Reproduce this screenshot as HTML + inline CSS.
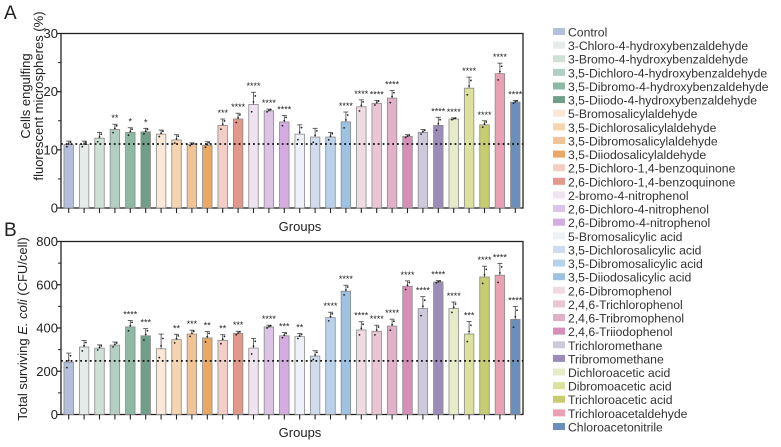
<!DOCTYPE html>
<html><head><meta charset="utf-8"><style>
body{margin:0;background:#fff;width:781px;height:442px;overflow:hidden}
svg{font-family:"Liberation Sans",Arial,sans-serif}
</style></head><body>
<svg id="c" width="781" height="442" viewBox="0 0 781 442"></svg>
<script>
const groups=["Control","3-Chloro-4-hydroxybenzaldehyde","3-Bromo-4-hydroxybenzaldehyde","3,5-Dichloro-4-hydroxybenzaldehyde","3,5-Dibromo-4-hydroxybenzaldehyde","3,5-Diiodo-4-hydroxybenzaldehyde","5-Bromosalicylaldehyde","3,5-Dichlorosalicylaldehyde","3,5-Dibromosalicylaldehyde","3,5-Diiodosalicylaldehyde","2,5-Dichloro-1,4-benzoquinone","2,6-Dichloro-1,4-benzoquinone","2-bromo-4-nitrophenol","2,6-Dichloro-4-nitrophenol","2,6-Dibromo-4-nitrophenol","5-Bromosalicylic acid","3,5-Dichlorosalicylic acid","3,5-Dibromosalicylic acid","3,5-Diiodosalicylic acid","2,6-Dibromophenol","2,4,6-Trichlorophenol","2,4,6-Tribromophenol","2,4,6-Triiodophenol","Trichloromethane","Tribromomethane","Dichloroacetic acid","Dibromoacetic acid","Trichloroacetic acid","Trichloroacetaldehyde","Chloroacetonitrile"];
const colors=["#b3c0dc","#e4ebe8","#cfe0d6","#b4cfc2","#8db9a5","#6f9e89","#fbe8d8","#f6d4b0","#f2c395","#eaa865","#f3cdc6","#e2988a","#efe2f1","#dcc4e4","#d4ace0","#eef2f8","#cfdced","#b9d2ea","#9ec2e3","#f0dbe2","#eac6d4","#e2b0c8","#d78fb8","#cfc9dc","#9b8db8","#e8ebc8","#dce29e","#c8cc70","#e9a2b4","#6a8fbb"];
const valsA=[10.9,10.9,12.0,13.5,13.0,13.1,12.7,11.7,10.9,10.8,14.2,15.3,17.8,16.7,14.8,12.7,12.2,12.2,14.8,17.4,18.0,18.9,12.3,13.0,14.2,15.3,20.6,14.3,23.1,18.2];
const errA=[0.6,0.6,1.0,0.9,0.8,0.6,0.7,0.9,0.3,0.6,1.1,1.0,2.1,0.3,1.1,1.6,1.5,0.8,1.7,1.2,0.5,1.3,0.3,0.5,1.4,0.2,1.9,0.7,1.8,0.3];
const sigA=["","","","**","*","*","","","","","***","****","****","****","****","","","","****","****","****","****","","","****","****","****","****","****","****"];
const valsB=[242,312,307,321,405,364,304,346,372,354,343,375,307,405,364,360,270,448,570,391,385,409,593,490,613,490,372,636,644,440];
const errB=[42,30,15,14,30,33,68,25,18,30,26,10,45,8,15,14,25,25,28,38,28,32,25,55,6,30,58,50,55,60];
const sigB=["","","","","****","***","","**","***","**","**","***","","****","***","**","","****","****","****","****","****","****","****","****","****","***","****","****","****"];
const ticksA=[0,10,20,30];
const ticksB=[0,200,400,600,800];
const baseA=11, baseB=248;

const svg=document.getElementById('c');
const NS="http://www.w3.org/2000/svg";
function mk(t,a,p){const e=document.createElementNS(NS,t);for(const k in a)e.setAttribute(k,a[k]);(p||svg).appendChild(e);return e;}

function panel(cfg){
  const {top,bottom,max,vals,err,sig,ticks,base,name}=cfg;
  const x0=61,x1=523,n=vals.length,step=(x1-x0)/n;
  const y=v=>bottom-(v/max)*(bottom-top);
  const xc=i=>x0+step*(i+0.5);
  const g=mk('g',{});
  
  
  mk('rect',{x:x0,y:top,width:x1-x0,height:bottom-top,fill:'none',stroke:'#222','stroke-width':1.3},g);
  ticks.forEach(t=>{
    mk('line',{x1:x0-4,x2:x0,y1:y(t),y2:y(t),stroke:'#222','stroke-width':1.2},g);
    const tx=mk('text',{x:x0-3,y:y(t)+4.5,'font-size':13,'text-anchor':'end',fill:'#222'},g);tx.textContent=t;
    
    
  });
  for(let k=0;k<ticks.length-1;k++){const m=(ticks[k]+ticks[k+1])/2;mk('line',{x1:x0-3,x2:x0,y1:y(m),y2:y(m),stroke:'#222','stroke-width':1},g);}
  vals.forEach((v,i)=>{
    const cx=xc(i),w=9.5;
    const r=mk('rect',{x:cx-w/2,y:y(v),width:w,height:bottom-y(v),fill:colors[i],stroke:'#8a8a8a','stroke-width':0.8},g);
    
    
    const et=y(v+err[i]);
    mk('line',{x1:cx,x2:cx,y1:y(v),y2:et,stroke:'#444','stroke-width':0.8},g);
    mk('line',{x1:cx-2.5,x2:cx+2.5,y1:et,y2:et,stroke:'#444','stroke-width':0.8},g);
    [-0.6,0.2,0.7].forEach((d,j)=>mk('circle',{cx:cx+(j-1)*1.8,cy:y(v+d*err[i]),r:0.9,fill:'#222'},g));
    mk('line',{x1:cx,x2:cx,y1:bottom,y2:bottom+5,stroke:'#222','stroke-width':1.1},g);
    if(sig[i]){const s=mk('text',{x:cx,y:et-3,'font-size':9,'text-anchor':'middle',fill:'#222'},g);s.textContent=sig[i];
      
      }
  });
  mk('line',{x1:x0,x2:x1,y1:y(base),y2:y(base),stroke:'#111','stroke-width':1.8,'stroke-dasharray':'1.8 3'},g);
}
panel({top:33.5,bottom:208,max:30,vals:valsA,err:errA,sig:sigA,ticks:ticksA,base:baseA,name:'panel-a-chart'});
panel({top:241.5,bottom:414.5,max:800,vals:valsB,err:errB,sig:sigB,ticks:ticksB,base:baseB,name:'panel-b-chart'});

function txt(s,a,name){const t=mk('text',a);t.textContent=s;return t;}
txt('A',{x:4,y:19,'font-size':19,fill:'#222'},'panel-a-letter');
txt('B',{x:4,y:236,'font-size':19,fill:'#222'},'panel-b-letter');
txt('Groups',{x:300,y:231,'font-size':13,'text-anchor':'middle',fill:'#222'},'x-axis-title-a');
txt('Groups',{x:300,y:437,'font-size':13,'text-anchor':'middle',fill:'#222'},'x-axis-title-b');
txt('Cells engulfing',{x:0,y:0,'font-size':13,'text-anchor':'middle',fill:'#222',transform:'translate(30,96) rotate(-90)'},'y-axis-title-a-line1');
txt('fluorescent microspheres (%)',{x:0,y:0,'font-size':13,'text-anchor':'middle',fill:'#222',transform:'translate(43,96) rotate(-90)'},'y-axis-title-a-line2');
const yb=mk('text',{x:0,y:0,'font-size':13,'text-anchor':'middle',fill:'#222',transform:'translate(27,329) rotate(-90)'});


yb.innerHTML='Total surviving <tspan font-style="italic">E. coli</tspan>  (CFU/cell)';

groups.forEach((gname,i)=>{
  const yy=32+i*13.62;
  const g=mk('g',{});
  
  
  mk('rect',{x:553,y:yy-4,width:12,height:7,fill:colors[i]},g);
  const t=mk('text',{x:568,y:yy+4.5,'font-size':12.2,fill:'#333'},g);t.textContent=gname;
});
</script>
</body></html>
